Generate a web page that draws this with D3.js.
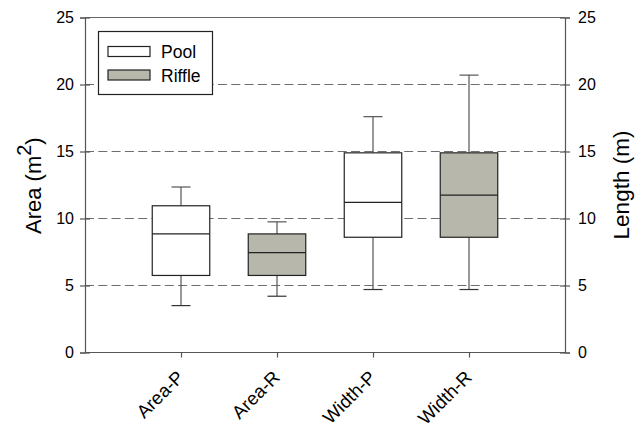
<!DOCTYPE html>
<html>
<head>
<meta charset="utf-8">
<script src="https://cdn.jsdelivr.net/npm/d3@7"></script>
<style>
  body { margin: 0; background: #fff; }
  svg text { font-family: Arial, "Liberation Sans", sans-serif; fill: #000; }
</style>
</head>
<body>
<svg id="sv" width="641" height="429"></svg>
<script>
const categories = ["Area-P", "Area-R", "Width-P", "Width-R"];
const groups = ["Pool", "Riffle", "Pool", "Riffle"];
const whiskLow = [3.5, 4.2, 4.7, 4.7];
const q1 = [5.75, 5.75, 8.6, 8.6];
const medians = [8.85, 7.45, 11.2, 11.75];
const q3 = [10.95, 8.85, 14.9, 14.9];
const whiskHigh = [12.35, 9.75, 17.6, 20.7];
const yTicks = [0, 5, 10, 15, 20, 25];
const gridVals = [5, 10, 15, 20];
const legendItems = ["Pool", "Riffle"];

const fillC = { Pool: "#ffffff", Riffle: "#b7b8ab" };
const rows = categories.map((c, i) => ({ c, g: groups[i], lo: whiskLow[i], q1: q1[i], md: medians[i], q3: q3[i], hi: whiskHigh[i] }));

const L = 85, R = 565, T = 17.5, B = 352.5;
const svg = d3.select("#sv");
const x = d3.scalePoint().domain(categories).range([L, R]).padding(1);
const y = d3.scaleLinear().domain([0, 25]).range([B, T]);
const bw = 57.5, cw = 19;

// dashed grid
svg.append("g").selectAll("line").data(gridVals).enter().append("line")
  .attr("x1", L).attr("x2", R).attr("y1", d => y(d)).attr("y2", d => y(d))
  .attr("stroke", "#6e6e6e").attr("stroke-width", 1).attr("stroke-dasharray", "9,4.3");

// frame top
svg.append("line").attr("x1", L).attr("x2", R).attr("y1", T).attr("y2", T).attr("stroke", "#666").attr("stroke-width", 1.2);

// boxes
const bx = svg.append("g").selectAll("g").data(rows).enter().append("g");
bx.append("line").attr("x1", d => x(d.c)).attr("x2", d => x(d.c)).attr("y1", d => y(d.hi)).attr("y2", d => y(d.q3))
  .attr("stroke", "#555").attr("stroke-width", 1.2);
bx.append("line").attr("x1", d => x(d.c)).attr("x2", d => x(d.c)).attr("y1", d => y(d.q1)).attr("y2", d => y(d.lo))
  .attr("stroke", "#555").attr("stroke-width", 1.2);
bx.append("line").attr("x1", d => x(d.c) - cw / 2).attr("x2", d => x(d.c) + cw / 2).attr("y1", d => y(d.hi)).attr("y2", d => y(d.hi))
  .attr("stroke", "#555").attr("stroke-width", 1.2);
bx.append("line").attr("x1", d => x(d.c) - cw / 2).attr("x2", d => x(d.c) + cw / 2).attr("y1", d => y(d.lo)).attr("y2", d => y(d.lo))
  .attr("stroke", "#333").attr("stroke-width", 1.2);
bx.append("rect").attr("x", d => x(d.c) - bw / 2).attr("width", bw).attr("y", d => y(d.q3)).attr("height", d => y(d.q1) - y(d.q3))
  .attr("fill", d => fillC[d.g]).attr("stroke", "#222").attr("stroke-width", 1.2);
bx.append("line").attr("x1", d => x(d.c) - bw / 2).attr("x2", d => x(d.c) + bw / 2).attr("y1", d => y(d.md)).attr("y2", d => y(d.md))
  .attr("stroke", "#222").attr("stroke-width", 1.2);

// axes
const yl = svg.append("g").attr("transform", `translate(${L},0)`).call(d3.axisLeft(y).tickValues(yTicks).tickSize(5).tickPadding(6));
const yr = svg.append("g").attr("transform", `translate(${R},0)`).call(d3.axisRight(y).tickValues(yTicks).tickSize(5).tickPadding(8));
[yl, yr].forEach(a => {
  a.select(".domain").attr("stroke", "#555").attr("stroke-width", 1.2);
  a.selectAll(".tick line").attr("stroke", "#555").attr("stroke-width", 1.2);
  a.selectAll(".tick text").attr("font-size", 16).style("font-family", "Arial, 'Liberation Sans', sans-serif");
});
yl.selectAll(".tick line").attr("x1", 5);
yr.selectAll(".tick line").attr("x1", -5);

const xa = svg.append("g").attr("transform", `translate(0,${B})`).call(d3.axisBottom(x).tickSize(5).tickSizeOuter(0).tickFormat(""));
xa.select(".domain").attr("stroke", "#555").attr("stroke-width", 1.2).attr("d", `M${L},0H${R}`);
xa.selectAll(".tick line").attr("stroke", "#555").attr("stroke-width", 1.2);
svg.append("g").selectAll("text").data(categories).enter().append("text")
  .attr("transform", d => `translate(${x(d) + 4},${B + 26}) rotate(-45)`)
  .attr("text-anchor", "end").attr("font-size", 18.5).text(d => d);

// axis titles
const t1 = svg.append("text").attr("transform", `translate(41,234) rotate(-90)`)
  .attr("text-anchor", "start").attr("font-size", 22);
t1.append("tspan").text("Area (m");
t1.append("tspan").attr("font-size", 20).attr("dy", -10).text("2");
t1.append("tspan").attr("dy", 10).text(")");
svg.append("text").attr("transform", `translate(629,${(T + B) / 2}) rotate(-90)`)
  .attr("text-anchor", "middle").attr("font-size", 22.5).text("Length (m)");

// legend
const lg = svg.append("g");
lg.append("rect").attr("x", 98.5).attr("y", 31.5).attr("width", 114).attr("height", 63)
  .attr("fill", "#fff").attr("stroke", "#222").attr("stroke-width", 1.2);
const li = lg.selectAll("g").data(legendItems).enter().append("g")
  .attr("transform", (d, i) => `translate(0,${46.5 + i * 23.5})`);
li.append("rect").attr("x", 108).attr("width", 42).attr("height", 10)
  .attr("fill", d => fillC[d]).attr("stroke", "#222").attr("stroke-width", 1.2);
li.append("text").attr("x", 161).attr("y", 11.5).attr("font-size", 17.5).text(d => d);
</script>
</body>
</html>
